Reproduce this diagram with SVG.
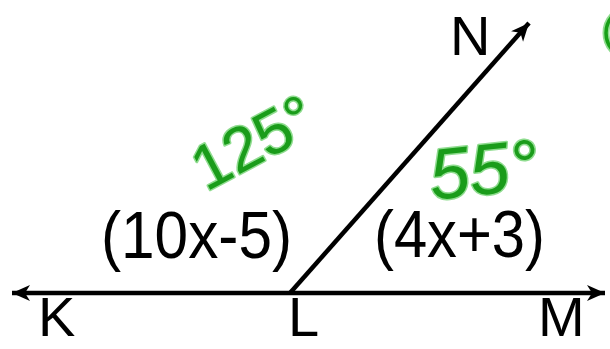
<svg xmlns="http://www.w3.org/2000/svg" width="610" height="349" viewBox="0 0 610 349">
<style>
.lbl{font-family:"Liberation Sans",Arial,sans-serif;font-size:56px;fill:#000}
.expr{font-family:"Liberation Sans",Arial,sans-serif;font-size:66px;fill:#000}
.ray{stroke:#000;stroke-width:4.5;fill:none}
.hw{font-family:"Liberation Sans",sans-serif;fill:#1a9c1a;stroke:#8fdc8f;stroke-width:3;paint-order:stroke;stroke-linejoin:round}
.hwarc{fill:none;stroke-linecap:round}
</style>
<defs>
<marker id="ah" markerUnits="userSpaceOnUse" viewBox="-20 -10 21 20" refX="0" refY="0" markerWidth="21" markerHeight="20" orient="auto-start-reverse">
<path d="M0,0 L-18,-8 L-13,0 L-18,8 z" fill="#000"/>
</marker>
</defs>
<rect width="610" height="349" fill="#fff"/>
<g id="connectors">
<line class="ray" x1="12" y1="293" x2="605" y2="293" marker-start="url(#ah)" marker-end="url(#ah)"/>
<line class="ray" x1="290" y1="293" x2="529" y2="23" marker-end="url(#ah)"/>
</g>
<g id="K"><text class="lbl" x="38" y="336">K</text></g>
<g id="L"><text class="lbl" x="288" y="336">L</text></g>
<g id="M"><text class="lbl" x="538" y="336">M</text></g>
<g id="N"><text class="lbl" x="450" y="55">N</text></g>
<g id="angle-KLN"><text class="expr" x="101" y="258" textLength="191" lengthAdjust="spacingAndGlyphs">(10x-5)</text></g>
<g id="angle-NLM"><text class="expr" x="374" y="257" textLength="171" lengthAdjust="spacingAndGlyphs">(4x+3)</text></g>
<g id="annot-125"><text class="hw" font-size="63" transform="translate(206,192) rotate(-28)">125°</text></g>
<g id="annot-55"><text class="hw" font-size="72" transform="translate(432,200) rotate(-6)" font-style="italic">55°</text></g>
<g id="annot-edge">
<ellipse class="hwarc" cx="628" cy="33" rx="22" ry="24" stroke="#8fdc8f" stroke-width="7"/>
<ellipse class="hwarc" cx="628" cy="33" rx="22" ry="24" stroke="#17a017" stroke-width="3.5"/>
</g>
</svg>
